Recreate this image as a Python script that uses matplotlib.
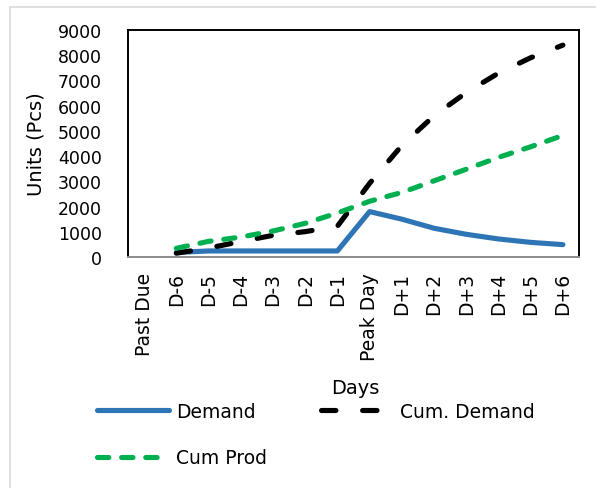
import matplotlib
matplotlib.use("Agg")
import matplotlib.pyplot as plt
from matplotlib.lines import Line2D
from matplotlib.patches import Rectangle

plt.rcParams['font.family'] = ['DejaVu Sans']

categories = ["Past Due", "D-6", "D-5", "D-4", "D-3", "D-2", "D-1", "Peak Day",
              "D+1", "D+2", "D+3", "D+4", "D+5", "D+6"]
# series start at D-6 (no value for Past Due)
demand = [None, 180, 240, 240, 240, 240, 240, 1800, 1500, 1140, 900, 715, 580, 490]
cum_demand = [None, 150, 355, 610, 860, 1005, 1220, 2920, 4420, 5600, 6520, 7290, 7900, 8400]
cum_prod = [None, 345, 620, 790, 1030, 1335, 1745, 2210, 2560, 3020, 3480, 3950, 4370, 4820]
y_ticks = [0, 1000, 2000, 3000, 4000, 5000, 6000, 7000, 8000, 9000]

blue = "#2E75B6"
green = "#00B050"
lw = 3.7
px = 72 / 100  # points per pixel at dpi 100

fig = plt.figure(figsize=(5.96, 4.89), dpi=100)
ax = fig.add_axes([128 / 596, 1 - 258 / 489, 451 / 596, 227 / 489])

x = list(range(len(categories)))


def pts(vals):
    xs = [i for i, v in zip(x, vals) if v is not None]
    ys = [v for v in vals if v is not None]
    return xs, ys


xs, ys = pts(demand)
ax.plot(xs, ys, color=blue, lw=lw, solid_capstyle="round", solid_joinstyle="round",
        label="Demand", zorder=3)
xs, ys = pts(cum_demand)
ax.plot(xs, ys, color="black", lw=lw, dashes=(2.8, 5.2), dash_capstyle="round",
        label="Cum. Demand", zorder=4)
xs, ys = pts(cum_prod)
ax.plot(xs, ys, color=green, lw=lw, dashes=(2.2, 2.5), dash_capstyle="round",
        label="Cum Prod", zorder=5)

ax.set_xlim(-0.5, len(categories) - 0.5)
ax.set_ylim(0, 9000)
ax.set_yticks(y_ticks)
ax.set_yticklabels([str(v) for v in y_ticks], fontsize=12.5)
ax.set_xticks(x)
ax.set_xticklabels(categories, rotation=90, fontsize=13.5)
ax.tick_params(axis="both", length=0)
ax.tick_params(axis="y", pad=26 * px)
ax.tick_params(axis="x", pad=15 * px)

for side in ("left", "top", "right"):
    ax.spines[side].set_color("black")
    ax.spines[side].set_linewidth(1.4)
ax.spines["bottom"].set_color("#8C8C8C")
ax.spines["bottom"].set_linewidth(1.4)

fig.text(36 / 596, 1 - 144 / 489, "Units (Pcs)", rotation=90, fontsize=14,
         ha="center", va="center")
fig.text(355 / 596, 1 - 389 / 489, "Days", fontsize=14, ha="center", va="center")

# legend, laid out in two rows (filled column by column)
h_demand = Line2D([], [], color=blue, lw=lw, solid_capstyle="round")
h_cum_demand = Line2D([], [], color="black", lw=lw, dashes=(2.8, 5.2), dash_capstyle="round")
h_cum_prod = Line2D([], [], color=green, lw=lw, dashes=(2.2, 2.5), dash_capstyle="round")
fig.legend([h_demand, h_cum_prod, h_cum_demand], ["Demand", "Cum Prod", "Cum. Demand"],
           loc="upper left", bbox_to_anchor=(80 / 596, 1 - 386 / 489),
           ncol=2, frameon=False, fontsize=13.5, handlelength=3.85, handletextpad=0.35,
           columnspacing=2.9, labelspacing=1.45)

# chart area border
fig.patches.append(Rectangle((10 / 596, -0.1), 1.2, 1 - 7.5 / 489 + 0.1,
                             transform=fig.transFigure, fill=False,
                             edgecolor="#D9D9D9", lw=1.2))

fig.savefig("out.png", dpi=100)
